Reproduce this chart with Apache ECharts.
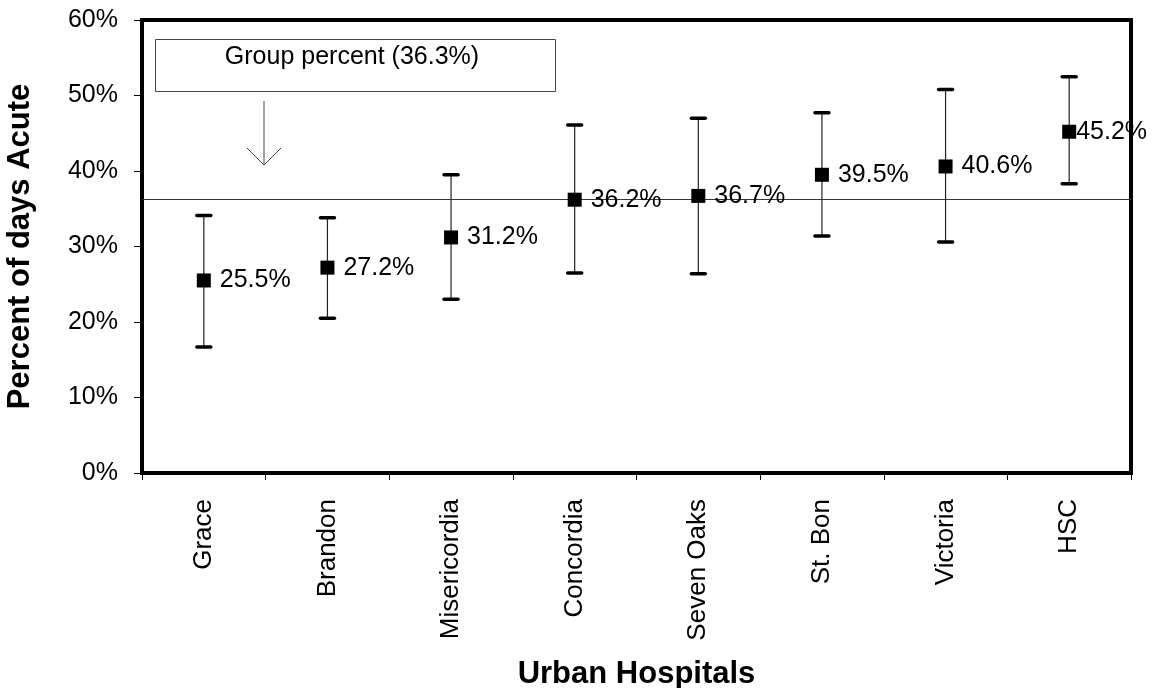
<!DOCTYPE html>
<html>
<head>
<meta charset="utf-8">
<script src="https://cdn.jsdelivr.net/npm/echarts@6/dist/echarts.min.js"></script>
<style>
html,body{margin:0;padding:0;background:#fff;}
#chart{width:1160px;height:688px;}
</style>
</head>
<body>
<div id="chart"></div>
<script>
const hospitals = ['Grace', 'Brandon', 'Misericordia', 'Concordia', 'Seven Oaks', 'St. Bon', 'Victoria', 'HSC'];
const percents = [25.5, 27.2, 31.2, 36.2, 36.7, 39.5, 40.6, 45.2];
const lowerCI = [16.7, 20.5, 23.0, 26.5, 26.4, 31.4, 30.6, 38.3];
const upperCI = [34.1, 33.8, 39.5, 46.1, 47.0, 47.7, 50.8, 52.5];
const groupPercent = 36.3;
const yTicks = [0, 10, 20, 30, 40, 50, 60];

const FONT = '"Liberation Sans", Arial, Helvetica, sans-serif';

const errData = hospitals.map((h, i) => [i, lowerCI[i], upperCI[i]]);
const pointData = hospitals.map((h, i) => {
  const item = { value: [i, percents[i]] };
  if (h === 'HSC') item.label = { distance: 0 };
  return item;
});

const chart = echarts.init(document.getElementById('chart'), null, { renderer: 'canvas' });

const option = {
  backgroundColor: '#fff',
  animation: false,
  grid: {
    left: 142, right: 29, top: 20, bottom: 215,
    containLabel: false,
    outerBoundsMode: 'none',
    show: true, borderColor: '#000', borderWidth: 4, backgroundColor: 'transparent'
  },
  xAxis: {
    type: 'category',
    data: hospitals,
    boundaryGap: true,
    axisLine: { lineStyle: { color: '#000', width: 4 } },
    axisTick: { show: true, alignWithLabel: false, length: 7, lineStyle: { color: '#000', width: 1 } },
    axisLabel: { rotate: 90, fontSize: 26, color: '#000', fontFamily: FONT, margin: 26 },
    name: 'Urban Hospitals',
    nameLocation: 'middle',
    nameGap: 186,
    nameTextStyle: { fontSize: 31, fontWeight: 'bold', color: '#000', fontFamily: FONT }
  },
  yAxis: {
    type: 'value',
    min: yTicks[0], max: yTicks[yTicks.length - 1], interval: 10,
    axisLine: { show: true, lineStyle: { color: '#000', width: 4 } },
    axisTick: { show: true, length: 8, lineStyle: { color: '#000', width: 1 } },
    splitLine: { show: false },
    axisLabel: { formatter: '{value}%', fontSize: 25, color: '#000', fontFamily: FONT, margin: 24 },
    name: 'Percent of days Acute',
    nameLocation: 'middle',
    nameGap: 106,
    nameTextStyle: { fontSize: 31, fontWeight: 'bold', color: '#000', fontFamily: FONT }
  },
  series: [
    {
      type: 'custom',
      name: 'CI',
      data: errData,
      z: 3,
      renderItem: function (params, api) {
        const x = api.value(0);
        const lo = api.coord([x, api.value(1)]);
        const hi = api.coord([x, api.value(2)]);
        const half = 7;
        return {
          type: 'group',
          children: [
            { type: 'line', shape: { x1: lo[0], y1: lo[1], x2: hi[0], y2: hi[1] },
              style: { stroke: '#222', lineWidth: 1.2 } },
            { type: 'line', shape: { x1: hi[0] - half, y1: hi[1], x2: hi[0] + half, y2: hi[1] },
              style: { stroke: '#000', lineWidth: 3.5, lineCap: 'round' } },
            { type: 'line', shape: { x1: lo[0] - half, y1: lo[1], x2: lo[0] + half, y2: lo[1] },
              style: { stroke: '#000', lineWidth: 3.5, lineCap: 'round' } }
          ]
        };
      }
    },
    {
      type: 'scatter',
      name: 'Percent',
      data: pointData,
      symbol: 'rect',
      symbolSize: 14,
      z: 5,
      itemStyle: { color: '#000', opacity: 1 },
      label: {
        show: true, position: 'right', distance: 9,
        formatter: p => p.value[1].toFixed(1) + '%',
        fontSize: 25, color: '#000', opacity: 1, fontFamily: FONT
      },
      markLine: {
        silent: true,
        symbol: 'none',
        label: { show: false },
        lineStyle: { color: '#333', width: 1, type: 'solid', opacity: 1 },
        data: [{ yAxis: groupPercent }]
      }
    }
  ],
  graphic: [
    { type: 'rect', left: 155, top: 39, shape: { width: 400, height: 52 },
      style: { fill: '#fff', stroke: '#444', lineWidth: 1 }, z: 10 },
    { type: 'text', x: 352, y: 57, z: 11,
      style: { text: 'Group percent (' + groupPercent.toFixed(1) + '%)', fill: '#000',
        font: '25px ' + FONT, textAlign: 'center', textVerticalAlign: 'middle' } },
    { type: 'line', shape: { x1: 264, y1: 101, x2: 264, y2: 165 },
      style: { stroke: '#444', lineWidth: 1 }, z: 10 },
    { type: 'polyline', shape: { points: [[247, 148], [264, 165], [281, 148]] },
      style: { stroke: '#444', lineWidth: 1, fill: null }, z: 10 }
  ]
};
chart.setOption(option);
</script>
</body>
</html>
